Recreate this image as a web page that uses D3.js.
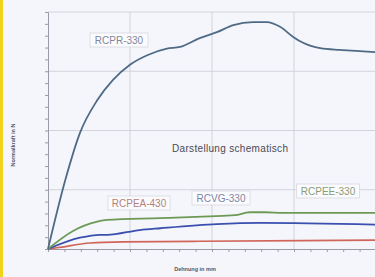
<!DOCTYPE html>
<html>
<head>
<meta charset="utf-8">
<script src="https://cdn.jsdelivr.net/npm/d3@7"></script>
<style>
  body { margin: 0; background: #f4f5fa; }
  svg { display: block; }
</style>
</head>
<body>
<div id="chart"></div>
<script>
// values (x in mm-like units, y in N-like units, no labels printed)
const seriesNames = ['RCPR-330', 'RCPEE-330', 'RCVG-330', 'RCPEA-430'];
const rcprX = [0, 2.1, 3.9, 6.0, 7.9, 10, 12.1, 14.5, 16.1, 18.5, 20.6, 22.6, 25, 26.7, 28.3, 29.9, 31.1, 33.2, 35.6, 38, 40];
const rcprY = [0, 116, 196, 251, 285, 311, 327, 338, 341, 356, 366, 378, 383, 383, 375, 358, 348, 339, 336, 334, 332];
const rcpeeX = [0, 3, 6, 7.2, 13.7, 21.3, 22.8, 24.6, 26.5, 28.7, 40];
const rcpeeY = [0, 30, 46, 49, 52, 56, 57, 62, 62, 61, 61];
const rcvgX = [0, 3.9, 6.3, 7.2, 11.2, 13.7, 20.6, 25.9, 40];
const rcvgY = [0, 19, 24, 24, 32, 35, 42, 44, 41];
const rcpeaX = [0, 1.1, 5.1, 9.1, 18.5, 40];
const rcpeaY = [0, 2, 10, 12, 13, 15];
const xGrid = [10, 20, 30, 40];
const yGrid = [100, 200, 300, 400];

const W = 375, H = 277;
const svg = d3.select('#chart').append('svg')
  .attr('width', W).attr('height', H);

svg.append('rect').attr('width', W).attr('height', H).attr('fill', '#f5f6fb');
// yellow strip on the left edge of the scan
svg.append('rect').attr('width', 3).attr('height', H).attr('fill', '#f2d21a');

const x = d3.scaleLinear().domain([0, 40]).range([48, 376]);
const y = d3.scaleLinear().domain([0, 400]).range([249, 12]);

// grid
svg.append('g').selectAll('line').data(xGrid).enter().append('line')
  .attr('x1', d => x(d)).attr('x2', d => x(d))
  .attr('y1', y(0)).attr('y2', y(400))
  .attr('stroke', '#d2d3db').attr('stroke-width', 1);
svg.append('g').selectAll('line').data(yGrid).enter().append('line')
  .attr('x1', x(0)).attr('x2', x(40))
  .attr('y1', d => y(d)).attr('y2', d => y(d))
  .attr('stroke', '#d2d3db').attr('stroke-width', 1);

// axes with minor ticks only
svg.append('g')
  .attr('transform', 'translate(0,' + y(0) + ')')
  .call(d3.axisBottom(x).tickValues(d3.range(0, 41, 2)).tickFormat('').tickSizeOuter(0).tickSize(3))
  .call(g => g.selectAll('line, path').attr('stroke', '#9a9aa6'));
svg.append('g')
  .attr('transform', 'translate(' + x(0) + ',0)')
  .call(d3.axisLeft(y).tickValues(d3.range(0, 401, 20)).tickFormat('').tickSizeOuter(0).tickSize(3))
  .call(g => g.selectAll('line, path').attr('stroke', '#9a9aa6'));

const line = d3.line().x(d => x(d[0])).y(d => y(d[1])).curve(d3.curveMonotoneX);
const series = [
  { xs: rcpeaX, ys: rcpeaY, color: '#d0655a', w: 1.6 },
  { xs: rcvgX, ys: rcvgY, color: '#3a4fae', w: 1.8 },
  { xs: rcpeeX, ys: rcpeeY, color: '#6c9a55', w: 1.8 },
  { xs: rcprX, ys: rcprY, color: '#4e6a86', w: 1.8 }
];
series.forEach(s => {
  svg.append('path')
    .datum(s.xs.map((v, i) => [v, s.ys[i]]))
    .attr('d', line)
    .attr('fill', 'none')
    .attr('stroke', s.color)
    .attr('stroke-width', s.w)
    .attr('stroke-linejoin', 'round');
});

// boxed series labels
const labels = [
  { text: seriesNames[0], cx: 119, cy: 40, w: 58, color: '#7f889c' },
  { text: seriesNames[3], cx: 139, cy: 203, w: 62, color: '#b3827a' },
  { text: seriesNames[2], cx: 221, cy: 198, w: 58, color: '#7b86a6' },
  { text: seriesNames[1], cx: 328, cy: 191, w: 63, color: '#8a9c76' }
];
labels.forEach(l => {
  svg.append('rect')
    .attr('x', l.cx - l.w / 2).attr('y', l.cy - 7)
    .attr('width', l.w).attr('height', 14)
    .attr('fill', '#fbfbfd').attr('stroke', '#d8d8e0').attr('stroke-width', 0.8);
  svg.append('text')
    .attr('x', l.cx).attr('y', l.cy + 3.5)
    .attr('text-anchor', 'middle')
    .attr('font-family', 'Liberation Sans, Arial, sans-serif')
    .attr('font-size', 10)
    .attr('fill', l.color)
    .text(l.text);
});

svg.append('text')
  .attr('x', 230).attr('y', 152)
  .attr('text-anchor', 'middle')
  .attr('font-family', 'Liberation Sans, Arial, sans-serif')
  .attr('font-size', 10)
  .attr('fill', '#4a4a55')
  .attr('textLength', 116)
  .text('Darstellung schematisch');

// axis titles
svg.append('text')
  .attr('transform', 'translate(15,145) rotate(-90)')
  .attr('text-anchor', 'middle')
  .attr('font-family', 'Liberation Sans, Arial, sans-serif')
  .attr('font-size', 5.5)
  .attr('font-weight', 'bold')
  .attr('fill', '#55555f')
  .text('Normalkraft in N');
svg.append('text')
  .attr('x', 195).attr('y', 271)
  .attr('text-anchor', 'middle')
  .attr('font-family', 'Liberation Sans, Arial, sans-serif')
  .attr('font-size', 5.5)
  .attr('font-weight', 'bold')
  .attr('fill', '#55555f')
  .text('Dehnung in mm');
</script>
</body>
</html>
